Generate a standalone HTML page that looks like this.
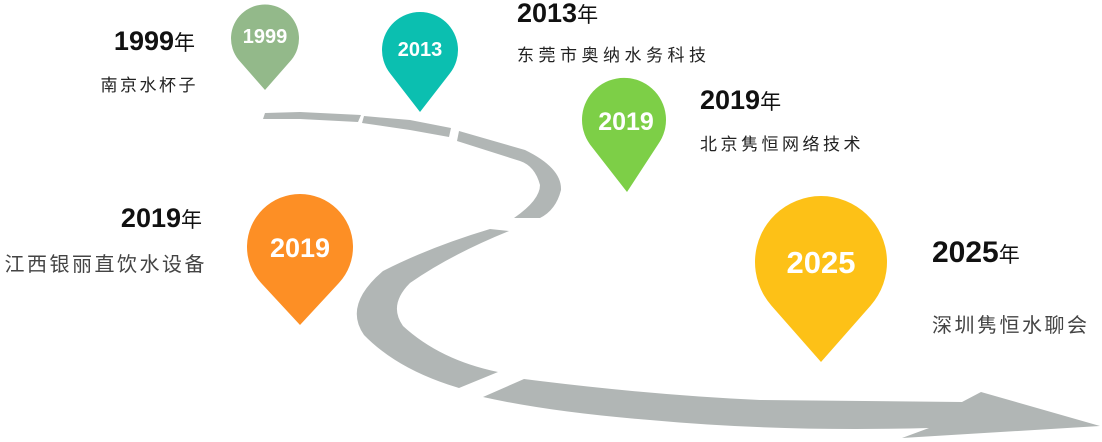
<!DOCTYPE html>
<html><head><meta charset="utf-8"><style>
body{margin:0;width:1102px;height:442px;overflow:hidden;background:#fff;position:relative;font-family:"Liberation Sans","Noto Sans CJK SC",sans-serif}
.t{position:absolute;white-space:nowrap;color:#111}
.y{font-weight:bold;font-size:27px}
.y span{font-size:21px;font-weight:normal}
.s{font-size:17px;color:#222;letter-spacing:2.5px}
.r{text-align:right}
svg{position:absolute;left:0;top:0}
</style></head><body>
<svg width="1102" height="442" viewBox="0 0 1102 442">
<g fill="#b1b6b5">
<path d="M265,113 L300,112 L361,115 L358,122 L300,119 L263,119 Z"/>
<path d="M364,116 L410,120 L451,128 L449,137 L410,130 L362,123 Z"/>
<path d="M459,131 L525,150 Q562,168 561,190 Q556,210 540,218 L514,218 Q540,200 540,185 Q535,166 520,161 L457,141 Z"/>
<path d="M490,229 L509,231 Q450,255 410,283 Q388,305 403,326 Q440,360 498,372 L459,388 Q398,370 364,335 Q343,305 383,271 Q430,247 490,229 Z"/>
<path d="M524,379 Q650,395 760,400 L962,402 L981,392 L1100,426 L902,438 L929,428 Q780,432 650,420 Q550,412 483,397 Z"/>
</g>
<path d="M238.7,60 A34,34 0 1 1 291.3,60 L265,90 Z" fill="#93b98a"/>
<path d="M390,73.3 A38,38 0 1 1 450,73.3 L420,112 Z" fill="#0bbfb0"/>
<path d="M590,144.5 A42,42 0 1 1 658,144.5 L627,192 Z" fill="#7dcf47"/>
<path d="M261.1,283 A53,53 0 1 1 338.9,283 L300,325 Z" fill="#fd8f25"/>
<path d="M771.4,305.6 A66,66 0 1 1 870.6,305.6 L821,362 Z" fill="#fdc117"/>
<g fill="#fff" font-family="Liberation Sans, sans-serif" font-weight="bold" text-anchor="middle">
<text x="265" y="43" font-size="20">1999</text>
<text x="420" y="56" font-size="20">2013</text>
<text x="626" y="130" font-size="25">2019</text>
<text x="300" y="257" font-size="27">2019</text>
<text x="821" y="273" font-size="31">2025</text>
</g>
</svg>
<div class="t y r" style="right:907px;top:26px">1999<span>年</span></div>
<div class="t s r" style="right:904px;top:71px">南京水杯子</div>
<div class="t y" style="left:517px;top:-2px">2013<span>年</span></div>
<div class="t s" style="left:517px;top:41px;letter-spacing:4.5px">东莞市奥纳水务科技</div>
<div class="t y" style="left:700px;top:85px">2019<span>年</span></div>
<div class="t s" style="left:700px;top:130px;letter-spacing:3.5px">北京隽恒网络技术</div>
<div class="t y r" style="right:900px;top:203px">2019<span>年</span></div>
<div class="t s r" style="right:895px;top:248px;font-size:20px;color:#444">江西银丽直饮水设备</div>
<div class="t y" style="left:932px;top:236px;font-size:30px">2025<span>年</span></div>
<div class="t s" style="left:932px;top:309px;font-size:20px;color:#444">深圳隽恒水聊会</div>
</body></html>
